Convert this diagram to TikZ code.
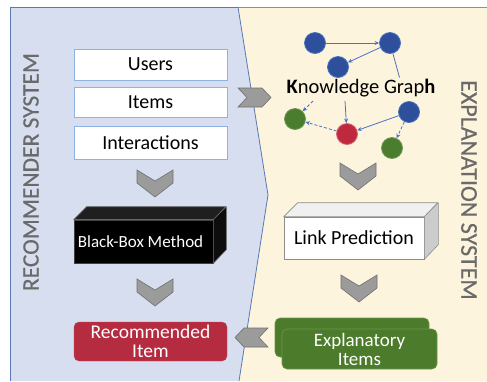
\documentclass[tikz,border=0pt]{standalone}
\usepackage{fontspec}
\setmainfont{Carlito}
\newfontfamily\labelfont[FakeBold=0.5]{Carlito}
\usetikzlibrary{arrows.meta,calc}
\definecolor{recbg}{HTML}{D6DEF0}
\definecolor{expbg}{HTML}{FDF4DE}
\definecolor{panelline}{HTML}{5A78B4}
\definecolor{topline}{HTML}{B8845A}
\definecolor{boxline}{HTML}{8DB3E2}
\definecolor{chevfill}{HTML}{9B9B9B}
\definecolor{chevline}{HTML}{707070}
\definecolor{recred}{HTML}{B52B40}
\definecolor{expgreen}{HTML}{4B7B2B}
\definecolor{expgreenline}{HTML}{6A9A45}
\definecolor{kgblue}{HTML}{2D4F9C}
\definecolor{kgblueline}{HTML}{4A72C0}
\definecolor{kggreen}{HTML}{4A7D2E}
\definecolor{kgred}{HTML}{C0283E}
\definecolor{arrowblue}{HTML}{4A72C4}
\definecolor{labelgray}{HTML}{6A6A6A}
\tikzset{
  inbox/.style={draw=boxline, line width=0.8pt, fill=white, minimum width=153pt, inner sep=0pt, font=\fontsize{20}{22}\selectfont},
  chevron/.style={fill=chevfill, draw=chevline, line width=0.6pt, line join=miter},
  kgnode/.style={circle, minimum size=21pt, inner sep=0pt, line width=0.8pt},
  kgb/.style={kgnode, fill=kgblue, draw=kgblueline},
  kgg/.style={kgnode, fill=kggreen, draw=kggreen!80!white},
  kgr/.style={kgnode, fill=kgred, draw=kgred!70!white},
  kgarrow/.style={draw=arrowblue, line width=0.8pt, -{Stealth[length=4.5pt,width=4pt]}},
  kgdash/.style={kgarrow, densely dashed},
  syslabel/.style={text=labelgray, inner sep=0pt},
  pics/downchev/.style={code={
    \path[chevron] (-18,0) -- (0,11) -- (18,0) -- (18,13) -- (0,27) -- (-18,13) -- cycle;}}
}
\begin{document}
\begin{tikzpicture}[x=1pt,y=-1pt]
\useasboundingbox (0,0) rectangle (487,381);
% panels
\fill[expbg] (238,7) -- (487,7) -- (487,381) -- (239,381) -- (268,195) -- cycle;
\fill[recbg] (10,7) -- (238,7) -- (268,195) -- (239,381) -- (10,381) -- cycle;
\draw[panelline, line width=0.8pt] (10,381) -- (10,7) -- (238,7);
\draw[topline, line width=0.8pt] (238,7) -- (487,7);
\draw[panelline, line width=0.8pt] (238,7) -- (268,195) -- (239,381);

% side labels
\node[syslabel, rotate=90, font=\labelfont\fontsize{23.5}{24}\selectfont] (reclabel) at (31,172) {RECOMMENDER SYSTEM};
\node[syslabel, rotate=-90, font=\labelfont\fontsize{24}{24}\selectfont] (explabel) at (469,190) {EXPLANATION SYSTEM};

% recommender inputs
\node[inbox, minimum height=31pt] (users) at (150.5,64.5) {Users};
\node[inbox, minimum height=30pt] (items) at (150.5,102) {Items};
\node[inbox, minimum height=33pt] (inter) at (150.5,142.5) {Interactions};

\pic at (155,170) {downchev};

% black box
\node[fill=black, draw=black!75, line width=0.6pt, minimum width=139pt, minimum height=43pt, inner sep=0pt] (bb) at (143.5,241.5) {};
\draw[fill=black!88, draw=black!60, line width=0.6pt, line join=round]
  (bb.north west) -- ++(13,-13) -- ++(139,0) -- (bb.north east) -- cycle;
\draw[fill=black!95, draw=black!60, line width=0.6pt, line join=round]
  (bb.north east) -- ++(13,-13) -- ++(0,43) -- (bb.south east) -- cycle;
\node[anchor=west, inner sep=0pt, text=white, font=\fontsize{17}{18}\selectfont] (bbtext) at ([xshift=4pt]bb.west) {Black-Box Method};

\pic at (155,279) {downchev};

% recommended item
\node[fill=recred, draw=recred!85!white, rounded corners=5pt, minimum width=153pt, minimum height=39pt, inner sep=0pt,
      text=white, align=center, font=\fontsize{19.5}{19}\selectfont] (rec) at (150.5,341.5) {Recommended\\Item};

% knowledge graph
\node[kgb] (n1) at (315,43) {};
\node[kgb] (n2) at (390,43) {};
\node[kgb] (n3) at (338,67) {};
\node[kgg] (n4) at (295,119) {};
\node[kgr] (n5) at (347,134) {};
\node[kgb] (n6) at (409,112) {};
\node[kgg] (n7) at (392,148) {};
\coordinate (mid26) at ($(n2)!0.5!(n6)$);
\draw[arrowblue, line width=0.8pt] (n2) -- (mid26);
\node[inner sep=0pt, font=\fontsize{20.5}{22}\selectfont] (kg) at (361,88) {\textbf{K}nowledge Grap\textbf{h}};
\coordinate (kgA) at (313,101);
\coordinate (kgB) at (345,101);
\draw[kgarrow] (n1) -- (n2);
\draw[kgarrow] (n2) -- (n3);
\draw[kgdash] (kgA) -- (n4);
\draw[kgarrow] (kgB) -- (n5);
\draw[kgarrow] (n6) -- (n5);
\draw[kgdash] (n5) -- (n4);
\draw[kgdash] (n6) -- (n7);

% input chevron
\path[chevron] (238,88) -- (262,88) -- (271,97.5) -- (262,107) -- (238,107) -- (247,97.5) -- cycle;

\pic at (358,163) {downchev};

% link prediction box
\node[fill=white, draw=black!45, line width=0.6pt, minimum width=140pt, minimum height=42pt, inner sep=0pt,
      font=\fontsize{20}{22}\selectfont] (lp) at (354,238) {Link Prediction};
\draw[fill=black!6, draw=black!45, line width=0.6pt, line join=round]
  (lp.north west) -- ++(14,-14) -- ++(140,0) -- (lp.north east) -- cycle;
\draw[fill=black!20, draw=black!45, line width=0.6pt, line join=round]
  (lp.north east) -- ++(14,-14) -- ++(0,42) -- (lp.south east) -- cycle;

\pic at (359,275) {downchev};

% explanatory items
\node[fill=expgreen, draw=expgreenline, line width=0.6pt, rounded corners=5pt, minimum width=154pt, minimum height=39pt,
      inner sep=0pt] (expback) at (352,337.5) {};
\node[fill=expgreen, draw=expgreenline, line width=0.6pt, rounded corners=5pt, minimum width=155pt, minimum height=40pt,
      inner sep=0pt, text=white, align=center, font=\fontsize{19}{19}\selectfont] (exp) at (359.5,349) {Explanatory\\Items};

% output chevron
\path[chevron] (268,328) -- (244,328) -- (235,337.5) -- (244,347) -- (268,347) -- (259,337.5) -- cycle;
\end{tikzpicture}
\end{document}
